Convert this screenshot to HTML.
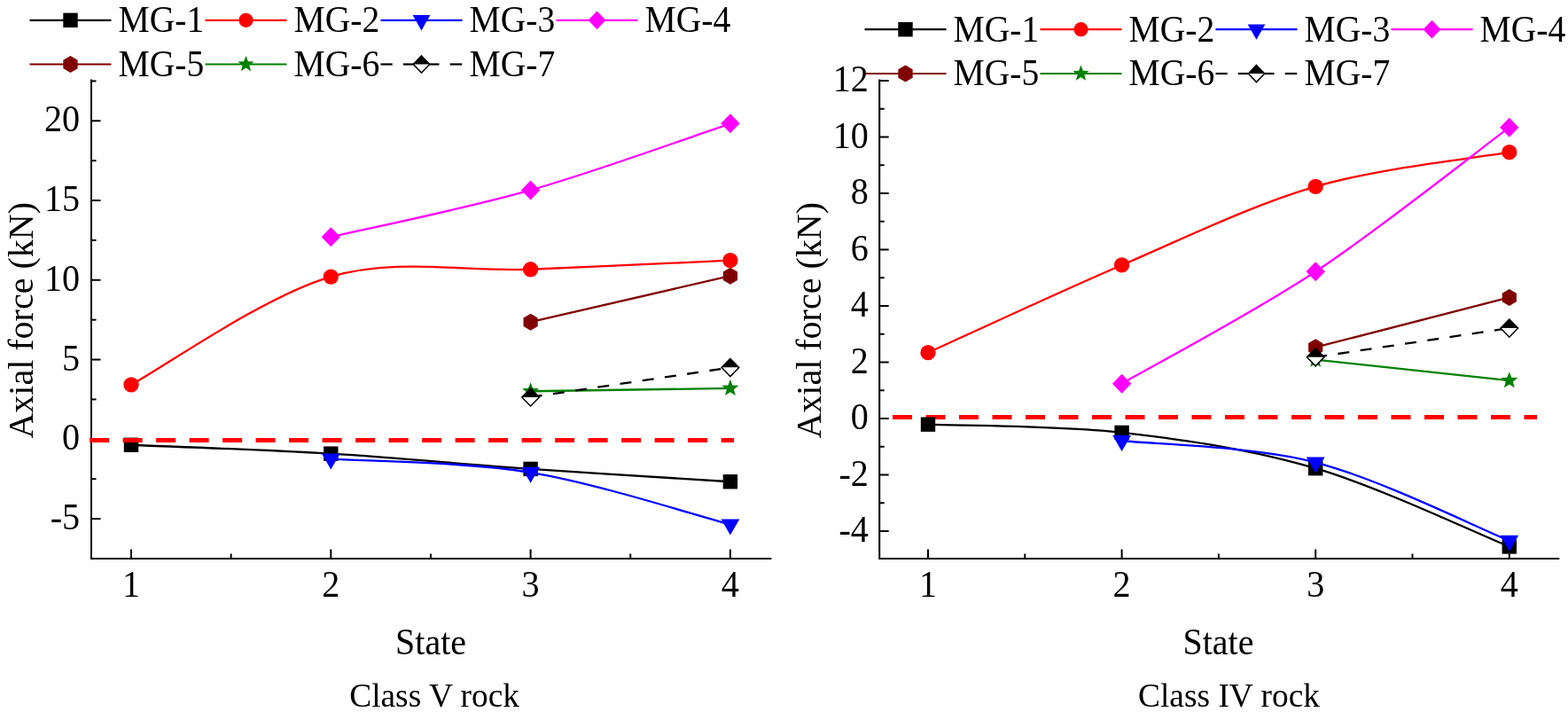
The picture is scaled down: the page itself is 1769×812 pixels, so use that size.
<!DOCTYPE html>
<html><head><meta charset="utf-8"><title>Axial force charts</title>
<style>
html,body{margin:0;padding:0;background:#fff;}
body{width:1769px;height:812px;overflow:hidden;}
svg{display:block;}
.t{font-family:"Liberation Serif", "Times New Roman", serif;font-size:40px;fill:#000;}
.tn{font-family:"Liberation Serif", "Times New Roman", serif;font-size:41.5px;fill:#000;}
.t2{font-family:"Liberation Serif", "Times New Roman", serif;font-size:37.4px;fill:#000;}
</style></head>
<body>
<svg width="1769" height="812" viewBox="0 0 1769 812">
<rect width="1769" height="812" fill="#fff"/>
<line x1="33.5" y1="22.8" x2="125.5" y2="22.8" stroke="#000000" stroke-width="2.2"/>
<rect x="71.3" y="14.6" width="16.4" height="16.4" fill="#000000"/>
<text transform="translate(133.4,36.3) scale(0.955,1)" class="tn">MG-1</text>
<line x1="231.5" y1="22.8" x2="323.5" y2="22.8" stroke="#FF0000" stroke-width="2.2"/>
<circle cx="277.5" cy="22.8" r="8.1" fill="#FF0000"/>
<text transform="translate(331.4,36.3) scale(0.955,1)" class="tn">MG-2</text>
<line x1="429.5" y1="22.8" x2="521.5" y2="22.8" stroke="#0000FF" stroke-width="2.2"/>
<polygon points="465.65,17 485.35,17 475.5,34.4" fill="#0000FF"/>
<text transform="translate(529.4,36.3) scale(0.955,1)" class="tn">MG-3</text>
<line x1="627.5" y1="22.8" x2="719.5" y2="22.8" stroke="#FF00FF" stroke-width="2.2"/>
<polygon points="673.5,12.45 683.5,22.8 673.5,33.15 663.5,22.8" fill="#FF00FF"/>
<text transform="translate(727.4,36.3) scale(0.955,1)" class="tn">MG-4</text>
<line x1="33.5" y1="72.5" x2="125.5" y2="72.5" stroke="#800000" stroke-width="2.2"/>
<polygon points="79.5,62.9 87.66,67.7 87.66,77.3 79.5,82.1 71.34,77.3 71.34,67.7" fill="#800000"/>
<text transform="translate(133.4,85.6) scale(0.955,1)" class="tn">MG-5</text>
<line x1="231.5" y1="72.5" x2="323.5" y2="72.5" stroke="#008000" stroke-width="2.2"/>
<polygon points="277.5,63 279.9,69.2 286.54,69.56 281.39,73.76 283.08,80.19 277.5,76.58 271.92,80.19 273.61,73.76 268.46,69.56 275.1,69.2" fill="#008000"/>
<text transform="translate(331.4,85.6) scale(0.955,1)" class="tn">MG-6</text>
<line x1="429.5" y1="72.5" x2="442.7" y2="72.5" stroke="#000" stroke-width="2.2"/>
<line x1="454.8" y1="72.5" x2="475.3" y2="72.5" stroke="#000" stroke-width="2.2"/>
<line x1="475.3" y1="72.5" x2="495.5" y2="72.5" stroke="#000" stroke-width="2.2"/>
<line x1="507.7" y1="72.5" x2="521.2" y2="72.5" stroke="#000" stroke-width="2.2"/>
<polygon points="466.3,72.5 475.5,62.9 484.7,72.5" fill="#000"/><polygon points="466.3,72.5 475.5,82.1 484.7,72.5" fill="#fff"/><polygon points="475.5,62.9 484.7,72.5 475.5,82.1 466.3,72.5" fill="none" stroke="#000" stroke-width="1.5" stroke-linejoin="miter"/>
<text transform="translate(529.4,85.6) scale(0.955,1)" class="tn">MG-7</text>
<line x1="975.5" y1="33.2" x2="1067.5" y2="33.2" stroke="#000000" stroke-width="2.2"/>
<rect x="1013.3" y="25" width="16.4" height="16.4" fill="#000000"/>
<text transform="translate(1075.4,46.8) scale(0.955,1)" class="tn">MG-1</text>
<line x1="1173.5" y1="33.2" x2="1265.5" y2="33.2" stroke="#FF0000" stroke-width="2.2"/>
<circle cx="1219.5" cy="33.2" r="8.1" fill="#FF0000"/>
<text transform="translate(1273.4,46.8) scale(0.955,1)" class="tn">MG-2</text>
<line x1="1371.5" y1="33.2" x2="1463.5" y2="33.2" stroke="#0000FF" stroke-width="2.2"/>
<polygon points="1407.65,27.4 1427.35,27.4 1417.5,44.8" fill="#0000FF"/>
<text transform="translate(1471.4,46.8) scale(0.955,1)" class="tn">MG-3</text>
<line x1="1569.5" y1="33.2" x2="1661.5" y2="33.2" stroke="#FF00FF" stroke-width="2.2"/>
<polygon points="1615.5,22.85 1625.5,33.2 1615.5,43.55 1605.5,33.2" fill="#FF00FF"/>
<text transform="translate(1669.4,46.8) scale(0.955,1)" class="tn">MG-4</text>
<line x1="975.5" y1="83" x2="1067.5" y2="83" stroke="#800000" stroke-width="2.2"/>
<polygon points="1021.5,73.4 1029.66,78.2 1029.66,87.8 1021.5,92.6 1013.34,87.8 1013.34,78.2" fill="#800000"/>
<text transform="translate(1075.4,96.1) scale(0.955,1)" class="tn">MG-5</text>
<line x1="1173.5" y1="83" x2="1265.5" y2="83" stroke="#008000" stroke-width="2.2"/>
<polygon points="1219.5,73.5 1221.9,79.7 1228.54,80.06 1223.39,84.26 1225.08,90.69 1219.5,87.08 1213.92,90.69 1215.61,84.26 1210.46,80.06 1217.1,79.7" fill="#008000"/>
<text transform="translate(1273.4,96.1) scale(0.955,1)" class="tn">MG-6</text>
<line x1="1371.5" y1="83" x2="1384.7" y2="83" stroke="#000" stroke-width="2.2"/>
<line x1="1396.8" y1="83" x2="1417.3" y2="83" stroke="#000" stroke-width="2.2"/>
<line x1="1417.3" y1="83" x2="1437.5" y2="83" stroke="#000" stroke-width="2.2"/>
<line x1="1449.7" y1="83" x2="1463.2" y2="83" stroke="#000" stroke-width="2.2"/>
<polygon points="1408.3,83 1417.5,73.4 1426.7,83" fill="#000"/><polygon points="1408.3,83 1417.5,92.6 1426.7,83" fill="#fff"/><polygon points="1417.5,73.4 1426.7,83 1417.5,92.6 1408.3,83" fill="none" stroke="#000" stroke-width="1.5" stroke-linejoin="miter"/>
<text transform="translate(1471.4,96.1) scale(0.955,1)" class="tn">MG-7</text>
<path d="M103,90.5 L103,630 L869.4,630" fill="none" stroke="#000" stroke-width="2" stroke-linecap="square"/>
<line x1="103" y1="585.05" x2="113.5" y2="585.05" stroke="#000" stroke-width="2"/>
<text transform="translate(90.2,597.05) scale(0.968,1)" text-anchor="end" class="tn">-5</text>
<line x1="103" y1="495.3" x2="113.5" y2="495.3" stroke="#000" stroke-width="2"/>
<text transform="translate(90.2,507.3) scale(0.968,1)" text-anchor="end" class="tn">0</text>
<line x1="103" y1="405.55" x2="113.5" y2="405.55" stroke="#000" stroke-width="2"/>
<text transform="translate(90.2,417.55) scale(0.968,1)" text-anchor="end" class="tn">5</text>
<line x1="103" y1="315.8" x2="113.5" y2="315.8" stroke="#000" stroke-width="2"/>
<text transform="translate(90.2,327.8) scale(0.968,1)" text-anchor="end" class="tn">10</text>
<line x1="103" y1="226.05" x2="113.5" y2="226.05" stroke="#000" stroke-width="2"/>
<text transform="translate(90.2,238.05) scale(0.968,1)" text-anchor="end" class="tn">15</text>
<line x1="103" y1="136.3" x2="113.5" y2="136.3" stroke="#000" stroke-width="2"/>
<text transform="translate(90.2,148.3) scale(0.968,1)" text-anchor="end" class="tn">20</text>
<line x1="103" y1="540.17" x2="108.5" y2="540.17" stroke="#000" stroke-width="2"/>
<line x1="103" y1="450.43" x2="108.5" y2="450.43" stroke="#000" stroke-width="2"/>
<line x1="103" y1="360.68" x2="108.5" y2="360.68" stroke="#000" stroke-width="2"/>
<line x1="103" y1="270.93" x2="108.5" y2="270.93" stroke="#000" stroke-width="2"/>
<line x1="103" y1="181.18" x2="108.5" y2="181.18" stroke="#000" stroke-width="2"/>
<line x1="103" y1="91.43" x2="108.5" y2="91.43" stroke="#000" stroke-width="2"/>
<line x1="148" y1="630" x2="148" y2="619.5" stroke="#000" stroke-width="2"/>
<text transform="translate(148,673) scale(0.968,1)" text-anchor="middle" class="tn">1</text>
<line x1="373.3" y1="630" x2="373.3" y2="619.5" stroke="#000" stroke-width="2"/>
<text transform="translate(373.3,673) scale(0.968,1)" text-anchor="middle" class="tn">2</text>
<line x1="598.6" y1="630" x2="598.6" y2="619.5" stroke="#000" stroke-width="2"/>
<text transform="translate(598.6,673) scale(0.968,1)" text-anchor="middle" class="tn">3</text>
<line x1="823.9" y1="630" x2="823.9" y2="619.5" stroke="#000" stroke-width="2"/>
<text transform="translate(823.9,673) scale(0.968,1)" text-anchor="middle" class="tn">4</text>
<line x1="260.65" y1="630" x2="260.65" y2="624.5" stroke="#000" stroke-width="2"/>
<line x1="485.95" y1="630" x2="485.95" y2="624.5" stroke="#000" stroke-width="2"/>
<line x1="711.25" y1="630" x2="711.25" y2="624.5" stroke="#000" stroke-width="2"/>
<text transform="translate(486,737.5) scale(0.964,1)" text-anchor="middle" class="tn">State</text>
<text x="490.1" y="797.3" text-anchor="middle" class="t2">Class V rock</text>
<text transform="translate(36.7,361.3) rotate(-90)" text-anchor="middle" class="t">Axial force (kN)</text>
<path d="M148,501.76 C185.55,503.41 298.2,507.12 373.3,511.63 C448.4,516.15 523.5,523.6 598.6,528.87 C673.7,534.13 786.35,540.83 823.9,543.23" fill="none" stroke="#000000" stroke-width="2.3"/>
<rect x="139.8" y="493.56" width="16.4" height="16.4" fill="#000000"/>
<rect x="365.1" y="503.43" width="16.4" height="16.4" fill="#000000"/>
<rect x="590.4" y="520.67" width="16.4" height="16.4" fill="#000000"/>
<rect x="815.7" y="535.03" width="16.4" height="16.4" fill="#000000"/>
<path d="M148,433.91 C185.55,413.6 298.2,333.72 373.3,312.03 C448.4,290.34 523.5,306.82 598.6,303.77 C673.7,300.72 786.35,295.4 823.9,293.72" fill="none" stroke="#FF0000" stroke-width="2.3"/>
<circle cx="148" cy="433.91" r="8.65" fill="#FF0000"/>
<circle cx="373.3" cy="312.03" r="8.65" fill="#FF0000"/>
<circle cx="598.6" cy="303.77" r="8.65" fill="#FF0000"/>
<circle cx="823.9" cy="293.72" r="8.65" fill="#FF0000"/>
<path d="M373.3,517.56 C410.85,520.1 523.5,520.49 598.6,532.82 C673.7,545.14 786.35,581.73 823.9,591.51" fill="none" stroke="#0000FF" stroke-width="2.3"/>
<polygon points="362.9,511.56 383.7,511.56 373.3,529.56" fill="#0000FF"/>
<polygon points="588.2,526.82 609,526.82 598.6,544.82" fill="#0000FF"/>
<polygon points="813.5,585.51 834.3,585.51 823.9,603.51" fill="#0000FF"/>
<path d="M373.3,267.34 C410.85,258.51 523.5,235.71 598.6,214.38 C673.7,193.05 786.35,151.86 823.9,139.35" fill="none" stroke="#FF00FF" stroke-width="2.3"/>
<polygon points="373.3,256.34 384,267.34 373.3,278.34 362.6,267.34" fill="#FF00FF"/>
<polygon points="598.6,203.38 609.3,214.38 598.6,225.38 587.9,214.38" fill="#FF00FF"/>
<polygon points="823.9,128.35 834.6,139.35 823.9,150.35 813.2,139.35" fill="#FF00FF"/>
<path d="M598.6,363.19 L823.9,311.13" fill="none" stroke="#800000" stroke-width="2.3"/>
<polygon points="598.6,353.69 606.68,358.44 606.68,367.94 598.6,372.69 590.52,367.94 590.52,358.44" fill="#800000"/>
<polygon points="823.9,301.63 831.98,306.38 831.98,315.88 823.9,320.63 815.82,315.88 815.82,306.38" fill="#800000"/>
<path d="M598.6,441.27 L823.9,437.86" fill="none" stroke="#008000" stroke-width="2.3"/>
<polygon points="598.6,431.27 601.13,437.79 608.11,438.18 602.69,442.6 604.48,449.36 598.6,445.57 592.72,449.36 594.51,442.6 589.09,438.18 596.07,437.79" fill="#008000"/>
<polygon points="823.9,427.86 826.43,434.38 833.41,434.77 827.99,439.19 829.78,445.95 823.9,442.16 818.02,445.95 819.81,439.19 814.39,434.77 821.37,434.38" fill="#008000"/>
<path d="M598.6,447.91 L823.9,414.53" fill="none" stroke="#000000" stroke-width="2.3" stroke-dasharray="13 12.5"/>
<polygon points="588.8,447.91 598.6,437.81 608.4,447.91" fill="#000"/><polygon points="588.8,447.91 598.6,458.01 608.4,447.91" fill="#fff"/><polygon points="598.6,437.81 608.4,447.91 598.6,458.01 588.8,447.91" fill="none" stroke="#000" stroke-width="1.5" stroke-linejoin="miter"/>
<polygon points="814.1,414.53 823.9,404.43 833.7,414.53" fill="#000"/><polygon points="814.1,414.53 823.9,424.63 833.7,414.53" fill="#fff"/><polygon points="823.9,404.43 833.7,414.53 823.9,424.63 814.1,414.53" fill="none" stroke="#000" stroke-width="1.5" stroke-linejoin="miter"/>
<line x1="101.1" y1="496.4" x2="828" y2="496.4" stroke="#FF0000" stroke-width="5" stroke-dasharray="22 15.5"/>
<path d="M992.2,90.6 L992.2,630 L1758.3,630" fill="none" stroke="#000" stroke-width="2" stroke-linecap="square"/>
<line x1="992.2" y1="599" x2="1002.7" y2="599" stroke="#000" stroke-width="2"/>
<text transform="translate(979.9,611) scale(0.968,1)" text-anchor="end" class="tn">-4</text>
<line x1="992.2" y1="535.5" x2="1002.7" y2="535.5" stroke="#000" stroke-width="2"/>
<text transform="translate(979.9,547.5) scale(0.968,1)" text-anchor="end" class="tn">-2</text>
<line x1="992.2" y1="472" x2="1002.7" y2="472" stroke="#000" stroke-width="2"/>
<text transform="translate(979.9,484) scale(0.968,1)" text-anchor="end" class="tn">0</text>
<line x1="992.2" y1="408.5" x2="1002.7" y2="408.5" stroke="#000" stroke-width="2"/>
<text transform="translate(979.9,420.5) scale(0.968,1)" text-anchor="end" class="tn">2</text>
<line x1="992.2" y1="345" x2="1002.7" y2="345" stroke="#000" stroke-width="2"/>
<text transform="translate(979.9,357) scale(0.968,1)" text-anchor="end" class="tn">4</text>
<line x1="992.2" y1="281.5" x2="1002.7" y2="281.5" stroke="#000" stroke-width="2"/>
<text transform="translate(979.9,293.5) scale(0.968,1)" text-anchor="end" class="tn">6</text>
<line x1="992.2" y1="218" x2="1002.7" y2="218" stroke="#000" stroke-width="2"/>
<text transform="translate(979.9,230) scale(0.968,1)" text-anchor="end" class="tn">8</text>
<line x1="992.2" y1="154.5" x2="1002.7" y2="154.5" stroke="#000" stroke-width="2"/>
<text transform="translate(979.9,166.5) scale(0.968,1)" text-anchor="end" class="tn">10</text>
<line x1="992.2" y1="91" x2="1002.7" y2="91" stroke="#000" stroke-width="2"/>
<text transform="translate(979.9,103) scale(0.968,1)" text-anchor="end" class="tn">12</text>
<line x1="992.2" y1="567.25" x2="997.7" y2="567.25" stroke="#000" stroke-width="2"/>
<line x1="992.2" y1="503.75" x2="997.7" y2="503.75" stroke="#000" stroke-width="2"/>
<line x1="992.2" y1="440.25" x2="997.7" y2="440.25" stroke="#000" stroke-width="2"/>
<line x1="992.2" y1="376.75" x2="997.7" y2="376.75" stroke="#000" stroke-width="2"/>
<line x1="992.2" y1="313.25" x2="997.7" y2="313.25" stroke="#000" stroke-width="2"/>
<line x1="992.2" y1="249.75" x2="997.7" y2="249.75" stroke="#000" stroke-width="2"/>
<line x1="992.2" y1="186.25" x2="997.7" y2="186.25" stroke="#000" stroke-width="2"/>
<line x1="992.2" y1="122.75" x2="997.7" y2="122.75" stroke="#000" stroke-width="2"/>
<line x1="1047" y1="630" x2="1047" y2="619.5" stroke="#000" stroke-width="2"/>
<text transform="translate(1047,673) scale(0.968,1)" text-anchor="middle" class="tn">1</text>
<line x1="1265.6" y1="630" x2="1265.6" y2="619.5" stroke="#000" stroke-width="2"/>
<text transform="translate(1265.6,673) scale(0.968,1)" text-anchor="middle" class="tn">2</text>
<line x1="1484.2" y1="630" x2="1484.2" y2="619.5" stroke="#000" stroke-width="2"/>
<text transform="translate(1484.2,673) scale(0.968,1)" text-anchor="middle" class="tn">3</text>
<line x1="1702.8" y1="630" x2="1702.8" y2="619.5" stroke="#000" stroke-width="2"/>
<text transform="translate(1702.8,673) scale(0.968,1)" text-anchor="middle" class="tn">4</text>
<line x1="1156.3" y1="630" x2="1156.3" y2="624.5" stroke="#000" stroke-width="2"/>
<line x1="1374.9" y1="630" x2="1374.9" y2="624.5" stroke="#000" stroke-width="2"/>
<line x1="1593.5" y1="630" x2="1593.5" y2="624.5" stroke="#000" stroke-width="2"/>
<text transform="translate(1374.4,737.5) scale(0.964,1)" text-anchor="middle" class="tn">State</text>
<text x="1386.5" y="797.3" text-anchor="middle" class="t2">Class IV rock</text>
<text transform="translate(925.7,361.3) rotate(-90)" text-anchor="middle" class="t">Axial force (kN)</text>
<line x1="1007" y1="470.6" x2="1734" y2="470.6" stroke="#FF0000" stroke-width="5" stroke-dasharray="22 15.5"/>
<path d="M1047,478.67 C1083.43,480.2 1192.73,479.62 1265.6,487.88 C1338.47,496.13 1411.33,506.77 1484.2,528.2 C1557.07,549.63 1666.37,601.75 1702.8,616.46" fill="none" stroke="#000000" stroke-width="2.3"/>
<rect x="1038.8" y="470.47" width="16.4" height="16.4" fill="#000000"/>
<rect x="1257.4" y="479.68" width="16.4" height="16.4" fill="#000000"/>
<rect x="1476" y="520" width="16.4" height="16.4" fill="#000000"/>
<rect x="1694.6" y="608.26" width="16.4" height="16.4" fill="#000000"/>
<path d="M1047,397.7 C1083.43,381.25 1192.73,330.18 1265.6,298.96 C1338.47,267.74 1411.33,231.6 1484.2,210.38 C1557.07,189.16 1666.37,178.1 1702.8,171.64" fill="none" stroke="#FF0000" stroke-width="2.3"/>
<circle cx="1047" cy="397.7" r="8.65" fill="#FF0000"/>
<circle cx="1265.6" cy="298.96" r="8.65" fill="#FF0000"/>
<circle cx="1484.2" cy="210.38" r="8.65" fill="#FF0000"/>
<circle cx="1702.8" cy="171.64" r="8.65" fill="#FF0000"/>
<path d="M1265.6,497.08 C1302.03,501.16 1411.33,502.74 1484.2,521.53 C1557.07,540.32 1666.37,595.08 1702.8,609.79" fill="none" stroke="#0000FF" stroke-width="2.3"/>
<polygon points="1255.2,491.08 1276,491.08 1265.6,509.08" fill="#0000FF"/>
<polygon points="1473.8,515.53 1494.6,515.53 1484.2,533.53" fill="#0000FF"/>
<polygon points="1692.4,603.79 1713.2,603.79 1702.8,621.79" fill="#0000FF"/>
<path d="M1265.6,432.63 C1302.03,411.57 1411.33,354.42 1484.2,306.26 C1557.07,258.11 1666.37,170.8 1702.8,143.7" fill="none" stroke="#FF00FF" stroke-width="2.3"/>
<polygon points="1265.6,421.63 1276.3,432.63 1265.6,443.63 1254.9,432.63" fill="#FF00FF"/>
<polygon points="1484.2,295.26 1494.9,306.26 1484.2,317.26 1473.5,306.26" fill="#FF00FF"/>
<polygon points="1702.8,132.7 1713.5,143.7 1702.8,154.7 1692.1,143.7" fill="#FF00FF"/>
<path d="M1484.2,391.67 L1702.8,335.48" fill="none" stroke="#800000" stroke-width="2.3"/>
<polygon points="1484.2,382.17 1492.28,386.92 1492.28,396.42 1484.2,401.17 1476.12,396.42 1476.12,386.92" fill="#800000"/>
<polygon points="1702.8,325.98 1710.88,330.73 1710.88,340.23 1702.8,344.98 1694.72,340.23 1694.72,330.73" fill="#800000"/>
<path d="M1484.2,405.64 L1702.8,429.14" fill="none" stroke="#008000" stroke-width="2.3"/>
<polygon points="1484.2,395.64 1486.73,402.16 1493.71,402.55 1488.29,406.97 1490.08,413.73 1484.2,409.94 1478.32,413.73 1480.11,406.97 1474.69,402.55 1481.67,402.16" fill="#008000"/>
<polygon points="1702.8,419.14 1705.33,425.66 1712.31,426.05 1706.89,430.47 1708.68,437.23 1702.8,433.44 1696.92,437.23 1698.71,430.47 1693.29,426.05 1700.27,425.66" fill="#008000"/>
<path d="M1484.2,402.78 L1702.8,370.08" fill="none" stroke="#000000" stroke-width="2.3" stroke-dasharray="13 12.5"/>
<polygon points="1474.4,402.78 1484.2,392.68 1494,402.78" fill="#000"/><polygon points="1474.4,402.78 1484.2,412.88 1494,402.78" fill="#fff"/><polygon points="1484.2,392.68 1494,402.78 1484.2,412.88 1474.4,402.78" fill="none" stroke="#000" stroke-width="1.5" stroke-linejoin="miter"/>
<polygon points="1693,370.08 1702.8,359.98 1712.6,370.08" fill="#000"/><polygon points="1693,370.08 1702.8,380.18 1712.6,370.08" fill="#fff"/><polygon points="1702.8,359.98 1712.6,370.08 1702.8,380.18 1693,370.08" fill="none" stroke="#000" stroke-width="1.5" stroke-linejoin="miter"/>
</svg>
</body></html>
